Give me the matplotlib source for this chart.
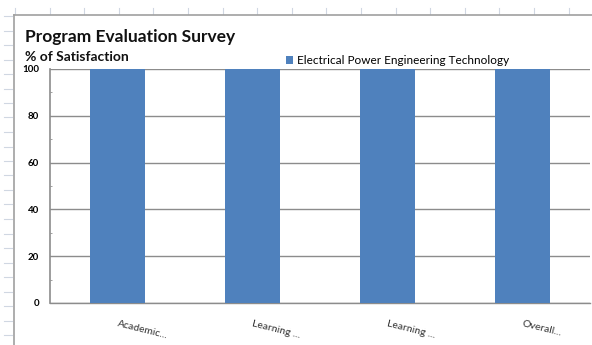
import matplotlib
matplotlib.use("Agg")
import matplotlib.pyplot as plt
from matplotlib.lines import Line2D
import numpy as np

plt.rcParams['font.family'] = ['Lato', 'DejaVu Sans']

# survey results
categories = ["Academic...", "Learning ...", "Learning ...", "Overall..."]
satisfaction = [100, 100, 100, 100]
series_name = "Electrical Power Engineering Technology"
yticks = [0, 20, 40, 60, 80, 100]

W, H = 592, 345
fig = plt.figure(figsize=(W / 100, H / 100), dpi=100)
fig.patch.set_facecolor("white")

def fx(px):
    return px / W

def fy(py):
    return 1 - py / H

# sheet gridline stubs around the chart object
for x in np.arange(15, W, 34.6):
    fig.add_artist(Line2D([fx(x), fx(x)], [fy(8), fy(14)], color="#d0d7e2", lw=0.8))
for y in np.arange(16, H, 14.5):
    fig.add_artist(Line2D([fx(4), fx(12)], [fy(y), fy(y)], color="#d0d7e2", lw=0.8))

# chart object border
fig.add_artist(Line2D([fx(14), fx(W)], [fy(15), fy(15)], color="#a0a0a0", lw=1.2))
fig.add_artist(Line2D([fx(14), fx(14)], [fy(15), fy(H)], color="#a0a0a0", lw=1.2))

ax = fig.add_axes([fx(50), fy(303), fx(590) - fx(50), fy(69) - fy(303)])
x = np.arange(len(categories))
ax.bar(x, satisfaction, width=0.41, color="#4f81bd", zorder=3,
       label=series_name)

ax.set_xlim(-0.5, 3.5)
ax.set_ylim(0, 100)
ax.set_yticks(yticks)
ax.set_yticklabels([str(t) for t in yticks], fontsize=7, fontweight="bold")
ax.set_yticks(np.arange(10, 100, 20), minor=True)
ax.tick_params(axis="y", which="major", length=0, pad=8)
ax.tick_params(axis="y", which="minor", length=1.5, direction="in",
               color="#909090")
ax.grid(axis="y", color="#8c8c8c", lw=1.0, zorder=0)

ax.set_xticks(x)
ax.set_xticks([])
# slanted category names start at each bar's centre
for xi, name in zip(x, categories):
    ax.text(xi, -9, name, fontsize=7.5, rotation=-14, rotation_mode="anchor",
            ha="left", va="center", color="#333333", clip_on=False)

for side in ["top", "right"]:
    ax.spines[side].set_visible(False)
ax.spines["left"].set_color("#8c8c8c")
ax.spines["left"].set_linewidth(1.2)
ax.spines["bottom"].set_color("#8c8c8c")
ax.spines["bottom"].set_linewidth(1.0)

fig.text(fx(25), fy(37), "Program Evaluation Survey", fontsize=12.5,
         fontweight="bold", va="center", ha="left", color="#111111")
fig.text(fx(25), fy(57), "% of Satisfaction", fontsize=10,
         fontweight="bold", va="center", ha="left", color="#111111")

ax.legend(loc="lower left", bbox_to_anchor=(fx(286), fy(66)),
          bbox_transform=fig.transFigure, frameon=False, fontsize=8.5,
          handlelength=0.6, handleheight=0.6, handletextpad=0.3,
          borderpad=0, borderaxespad=0)

fig.savefig("out.png", dpi=100)
